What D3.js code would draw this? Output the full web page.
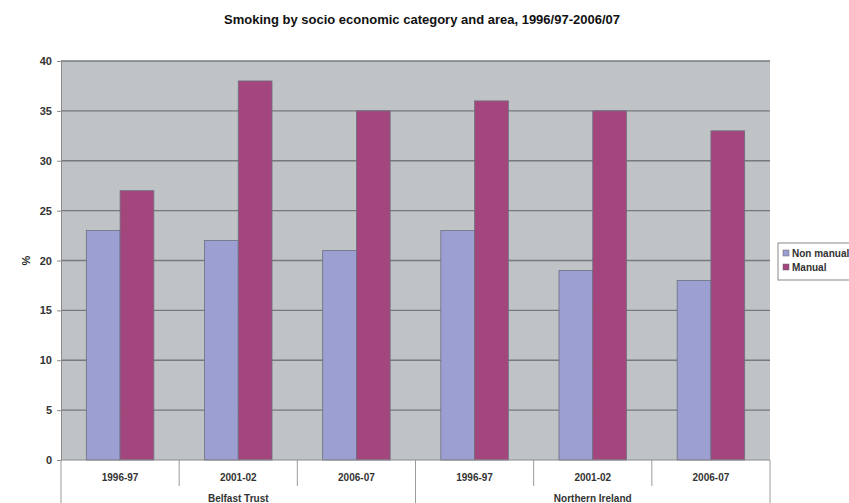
<!DOCTYPE html>
<html>
  <head>
    <meta charset=utf-8>
    <title>Smoking by socio economic category</title>
    <style>
      body{ margin:0; background:#fff; }
      text{ font-family:"Liberation Sans", Arial, sans-serif; fill:#222; }
    </style>
  </head>
  <body>
    <script src="https://d3js.org/d3.v7.min.js"></script>
    <script>
      var areas = ["Belfast Trust", "Northern Ireland"];
      var periods = ["1996-97", "2001-02", "2006-07"];
      var seriesNames = ["Non manual", "Manual"];
      var nonManual = [23, 22, 21, 23, 19, 18];
      var manual = [27, 38, 35, 36, 35, 33];
      var yTicks = [0, 5, 10, 15, 20, 25, 30, 35, 40];
      var colors = ["#9b9fd2", "#a4467e"];

      var width = 849, height = 503;
      var plot = {left: 61, right: 770, top: 61, bottom: 460};

      var svg = d3.select("body").append("svg")
        .attr("width", width)
        .attr("height", height);

      // one slot per area/period pair
      var cats = [];
      areas.forEach(function(a, ai) {
        periods.forEach(function(p, pi) {
          cats.push({key: a + "|" + p, area: a, period: p, i: ai * periods.length + pi});
        });
      });

      var x = d3.scaleBand()
        .domain(cats.map(function(d){ return d.key; }))
        .range([plot.left, plot.right])
        .padding(0);

      // excel style gap width of 150%
      var inner = d3.scaleBand()
        .domain(seriesNames)
        .range([0, x.bandwidth()])
        .paddingInner(0)
        .paddingOuter(0.75);

      var y = d3.scaleLinear().domain([0, 40]).range([plot.bottom, plot.top]);

      svg.append("rect")
        .attr("x", plot.left).attr("y", plot.top)
        .attr("width", plot.right - plot.left)
        .attr("height", plot.bottom - plot.top)
        .style("fill", "#bfc3c5");

      svg.append("g").selectAll("line").data(yTicks.slice(1)).enter()
        .append("line")
          .attr("x1", plot.left).attr("x2", plot.right)
          .attr("y1", function(d){ return y(d); })
          .attr("y2", function(d){ return y(d); })
          .style("stroke", "#77797c")
          .style("stroke-width", 1.3);

      var groups = svg.append("g").selectAll("g").data(cats).enter()
        .append("g")
          .attr("transform", function(d){ return "translate(" + x(d.key) + ",0)"; });

      groups.selectAll("rect")
        .data(function(d){ return [nonManual[d.i], manual[d.i]].map(function(v, k){ return {s: seriesNames[k], v: v, k: k}; }); })
        .enter().append("rect")
          .attr("x", function(d){ return inner(d.s); })
          .attr("width", inner.bandwidth())
          .attr("y", function(d){ return y(d.v); })
          .attr("height", function(d){ return y(0) - y(d.v); })
          .style("fill", function(d){ return colors[d.k]; })
          .style("stroke", "#6e6f80")
          .style("stroke-width", 0.8);

      // y axis
      var yAxis = d3.axisLeft(y).tickValues(yTicks).tickSize(4).tickPadding(5);
      var ya = svg.append("g").attr("transform", "translate(" + plot.left + ",0)").call(yAxis);
      ya.select(".domain").style("stroke", "#8a8a8a");
      ya.selectAll(".tick line").style("stroke", "#8a8a8a");
      ya.selectAll("text").style("font-size", "11px").style("font-weight", "bold").style("fill", "#333");

      svg.append("text")
        .attr("text-anchor", "middle")
        .attr("transform", "translate(30," + y(20) + ")rotate(-90)")
        .style("font-size", "11px").style("font-weight", "bold")
        .text("%");

      // category axis
      svg.append("line")
        .attr("x1", plot.left).attr("x2", plot.right)
        .attr("y1", plot.bottom).attr("y2", plot.bottom)
        .style("stroke", "#8a8a8a");

      cats.forEach(function(d, i) {
        if (i > 0) {
          var groupEdge = i % periods.length === 0;
          svg.append("line")
            .attr("x1", x(d.key)).attr("x2", x(d.key))
            .attr("y1", plot.bottom).attr("y2", groupEdge ? height : 486)
            .style("stroke", "#9a9a9a");
        }
      });
      [plot.left, plot.right].forEach(function(px) {
        svg.append("line")
          .attr("x1", px).attr("x2", px)
          .attr("y1", plot.bottom).attr("y2", height)
          .style("stroke", "#9a9a9a");
      });

      svg.append("g").selectAll("text").data(cats).enter()
        .append("text")
          .attr("x", function(d){ return x(d.key) + x.bandwidth() / 2; })
          .attr("y", 481)
          .attr("text-anchor", "middle")
          .style("font-size", "10px").style("font-weight", "bold").style("fill", "#333")
          .text(function(d){ return d.period; });

      svg.append("g").selectAll("text").data(areas).enter()
        .append("text")
          .attr("x", function(a){
            var first = x(a + "|" + periods[0]);
            var last = x(a + "|" + periods[periods.length - 1]) + x.bandwidth();
            return (first + last) / 2;
          })
          .attr("y", 502)
          .attr("text-anchor", "middle")
          .style("font-size", "10px").style("font-weight", "bold").style("fill", "#333")
          .text(function(a){ return a; });

      // title
      svg.append("text")
        .attr("x", 422).attr("y", 24)
        .attr("text-anchor", "middle")
        .style("font-size", "13px").style("font-weight", "bold").style("fill", "#111")
        .text("Smoking by socio economic category and area, 1996/97-2006/07");

      // legend
      var lg = svg.append("g").attr("transform", "translate(778,243)");
      lg.append("rect")
        .attr("width", 90).attr("height", 37)
        .style("fill", "#fff").style("stroke", "#888");
      seriesNames.forEach(function(s, k) {
        lg.append("rect")
          .attr("x", 5).attr("y", 7 + k * 14)
          .attr("width", 6).attr("height", 6)
          .style("fill", colors[k]).style("stroke", "#666").style("stroke-width", 0.5);
        lg.append("text")
          .attr("x", 14).attr("y", 13.5 + k * 14)
          .style("font-size", "10px").style("font-weight", "bold").style("fill", "#333")
          .text(s);
      });
    </script>
  </body>
</html>
